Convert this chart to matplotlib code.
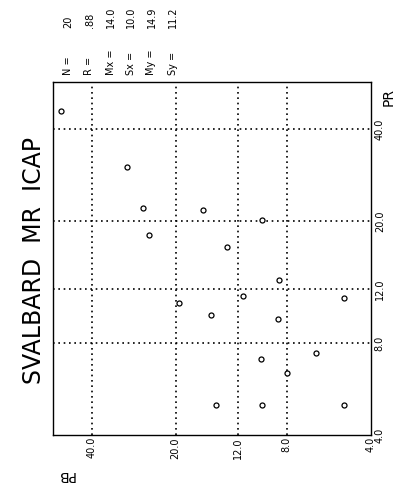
import matplotlib
matplotlib.use("Agg")
import matplotlib.pyplot as plt

# PB (horizontal, reversed log) and PR (vertical, log)
pb = [51.5, 30.0, 26.1, 24.9, 15.9, 9.8, 13.1, 19.4, 14.9, 8.5,
      11.5, 5.0, 8.6, 9.9, 6.3, 8.0, 14.4, 9.8, 5.0]
pr = [45.8, 30.0, 22.0, 18.0, 21.7, 20.2, 16.4, 10.8, 9.9, 12.8,
      11.4, 11.2, 9.6, 7.1, 7.4, 6.4, 5.0, 5.0, 5.0]

ticks = [4, 8, 12, 20, 40]
tick_labels = ["4.0", "8.0", "12.0", "20.0", "40.0"]

stat_names = ["N =", "R =", "Mx =", "Sx =", "My =", "Sy ="]
stat_values = ["20", ".88", "14.0", "10.0", "14.9", "11.2"]

W, H = 398, 495
fig = plt.figure(figsize=(W / 100, H / 100), dpi=100)


def fx(px):
    return px / W


def fy(py):
    return 1 - py / H


ax = fig.add_axes([fx(52.7), fy(435), fx(370.7) - fx(52.7), fy(81.7) - fy(435)])
ax.plot(pb, pr, 'o', ms=3.6, mfc='white', mec='black', mew=0.9, ls='none', zorder=3)

ax.set_xscale('log')
ax.set_yscale('log')
ax.set_xlim(55.2, 4)
ax.set_ylim(4, 57.1)
ax.minorticks_off()

ax.set_xticks(ticks)
ax.set_xticklabels(tick_labels, rotation=90, fontsize=7)
ax.set_yticks(ticks)
ax.set_yticklabels(tick_labels, rotation=90, fontsize=7, va='center')
ax.yaxis.tick_right()
ax.tick_params(axis='x', length=0, pad=1.5)
ax.tick_params(axis='y', length=0, pad=3)

for t in ticks[1:]:
    ax.axvline(t, color='black', ls=(0, (1, 2.2)), lw=1.2, zorder=1)
    ax.axhline(t, color='black', ls=(0, (1, 2.2)), lw=1.2, zorder=1)

for s in ax.spines.values():
    s.set_linewidth(1.0)

# title and axis names, rotated like the scan
fig.text(fx(34), fy(261), "SVALBARD  MR  ICAP", rotation=90, fontsize=17,
         ha='center', va='center')
fig.text(fx(389), fy(97), "PR", rotation=90, fontsize=10, ha='center', va='center')
fig.text(fx(66), fy(475), "PB", rotation=180, fontsize=10, ha='center', va='center')

stat_x = [68, 89.5, 110.5, 131, 151.5, 173]
for x, name, val in zip(stat_x, stat_names, stat_values):
    fig.text(fx(x), fy(75), name, rotation=90, fontsize=7, ha='center', va='bottom')
    fig.text(fx(x), fy(28), val, rotation=90, fontsize=7, ha='center', va='bottom')

fig.savefig("out.png", dpi=100)
